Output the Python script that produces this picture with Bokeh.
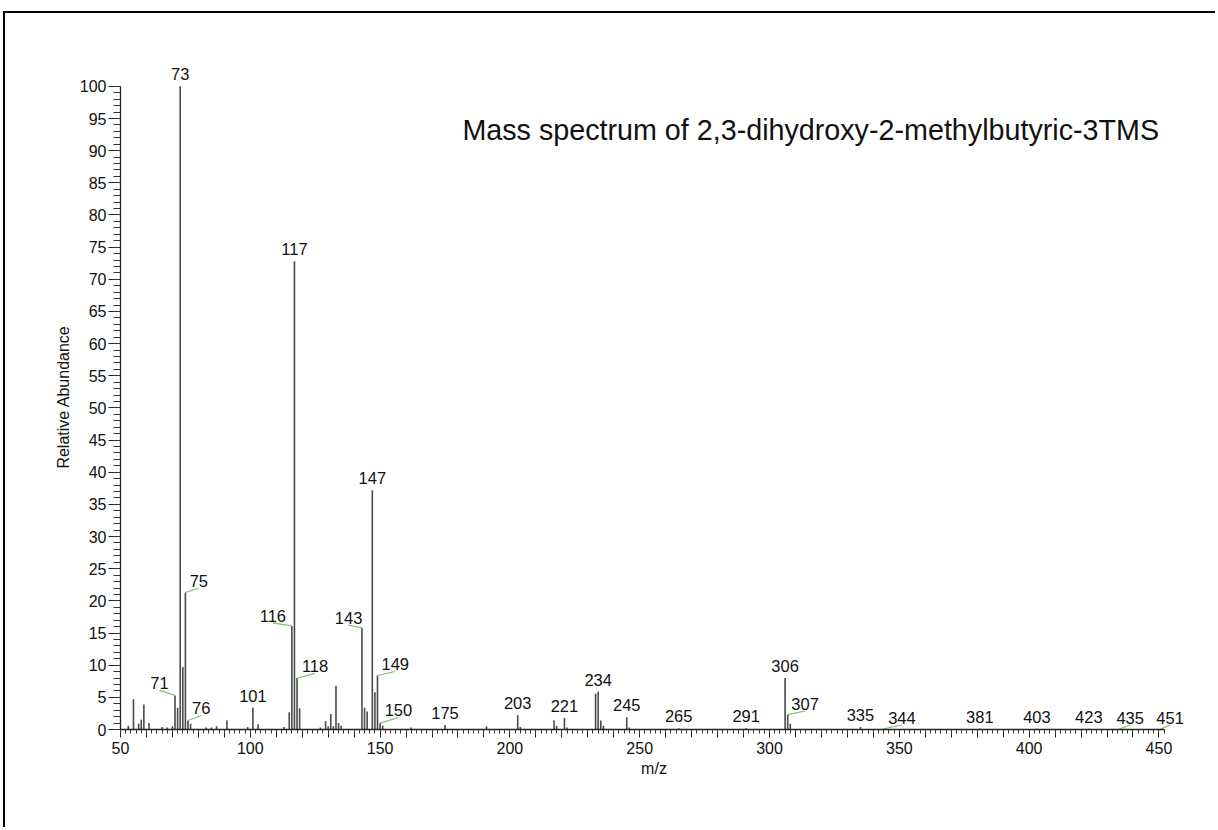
from bokeh.plotting import figure
from bokeh.models import FixedTicker, Label
from bokeh.core.properties import value
from bokeh.embed import file_html
from bokeh.resources import INLINE

# ---------------- data ----------------
mz = [53, 55, 57, 58, 59, 61, 66, 68, 70, 71, 72, 73, 74, 75, 76, 77, 83, 85, 87, 91,
      99, 101, 103, 113, 115, 116, 117, 118, 119, 127, 129, 130, 131, 132, 133, 134, 135,
      143, 144, 145, 147, 148, 149, 150, 151, 162, 175, 191, 203, 204, 217, 218, 221, 222,
      233, 234, 235, 236, 245, 246, 265, 291, 306, 307, 308, 335, 344, 381, 403, 423, 435, 451]
abundance = [0.6, 4.7, 0.9, 1.5, 3.9, 1.0, 0.4, 0.3, 0.5, 5.3, 3.4, 100.0, 9.7, 21.3, 1.4, 0.9, 0.3, 0.3, 0.5, 1.4,
             0.4, 3.4, 0.8, 0.4, 2.7, 16.1, 72.8, 8.0, 3.3, 0.3, 1.3, 0.5, 2.4, 0.5, 6.8, 1.0, 0.6,
             15.8, 3.4, 2.8, 37.2, 5.8, 8.4, 1.0, 0.6, 0.3, 0.7, 0.5, 2.2, 0.4, 1.4, 0.6, 1.8, 0.3,
             5.6, 5.9, 1.4, 0.6, 1.9, 0.3, 0.2, 0.2, 8.0, 2.3, 0.9, 0.4, 0.12, 0.15, 0.12, 0.12, 0.12, 0.12]
label_mz = [71, 73, 75, 76, 101, 116, 117, 118, 143, 147, 149, 150, 175, 203, 221, 234, 245,
            265, 291, 306, 307, 335, 344, 381, 403, 423, 435, 451]
x_tick_labels = [50, 100, 150, 200, 250, 300, 350, 400, 450]
y_tick_labels = [0, 5, 10, 15, 20, 25, 30, 35, 40, 45, 50, 55, 60, 65, 70, 75, 80, 85, 90, 95, 100]
title_text = "Mass spectrum of 2,3-dihydroxy-2-methylbutyric-3TMS"
x_title = "m/z"
y_title = "Relative Abundance"

# ---------------- layout / style ----------------
W, H = 1212, 816
BL, BR, BT, BB = 115, 30, 51, 100
X0, X1 = 50, 461
Y0, Y1 = 0, 103.4
ppx = (W - BL - BR) / (X1 - X0)
ppy = (H - BT - BB) / (Y1 - Y0)

FONT = "Liberation Sans"
PEAK_COLOR = "#4a4a4a"
LEADER_COLOR = "#7cc36e"
TEXT_COLOR = "#111111"

# label centre offsets (px) from the peak top; non-zero dx draws a leader line
LABEL_OFFSETS = {71: (-15.5, 12), 75: (13.4, 11.3), 76: (13.2, 12), 116: (-19, 10),
                 118: (18, 11.6), 143: (-13.4, 9.7), 149: (17.7, 11), 150: (18.3, 12.6),
                 307: (17.4, 10.7), 344: (18.2, 10.7), 435: (10.2, 10.7), 451: (8.6, 10.7)}
DEFAULT_OFFSET = (0, 12)

p = figure(width=W, height=H, x_range=(X0, X1), y_range=(Y0, Y1),
           output_backend="svg", toolbar_location=None,
           min_border_left=BL, min_border_right=BR, min_border_top=BT, min_border_bottom=BB)
p.styles = {"border-top": "2px solid #000", "border-left": "2px solid #000",
            "margin-left": "3px", "margin-top": "11px"}
p.xgrid.visible = False
p.ygrid.visible = False
p.outline_line_color = None
p.background_fill_color = "white"
p.border_fill_color = "white"

# peaks
p.segment(x0=mz, y0=[0] * len(mz), x1=mz, y1=abundance, line_color=PEAK_COLOR, line_width=1.6)

# peak labels and leaders
lookup = dict(zip(mz, abundance))
lx, ly, lt = [], [], []
sx0, sy0, sx1, sy1 = [], [], [], []
for m in label_mz:
    h = lookup[m]
    dx, dy = LABEL_OFFSETS.get(m, DEFAULT_OFFSET)
    x = m + dx / ppx
    y = h + dy / ppy
    lx.append(x); ly.append(y); lt.append(str(m))
    if dx != 0:
        sx0.append(m); sy0.append(h)
        sx1.append(x); sy1.append(y - 7 / ppy)
p.segment(x0=sx0, y0=sy0, x1=sx1, y1=sy1, line_color=LEADER_COLOR, line_width=1.2)
p.text(x=lx, y=ly, text=lt, text_font=value(FONT), text_font_size="16.5px",
       text_align="center", text_baseline="middle", text_color=TEXT_COLOR)

# axes
xmaj = list(range(50, 451, 10))
p.xaxis.ticker = FixedTicker(ticks=xmaj, minor_ticks=list(range(50, 453, 2)))
p.xaxis.major_label_overrides = {t: "" for t in xmaj if t not in x_tick_labels}
p.xaxis.bounds = (50, 452)
p.yaxis.ticker = FixedTicker(ticks=y_tick_labels, minor_ticks=list(range(0, 101)))
p.yaxis.bounds = (0, 100)
for ax in (p.xaxis, p.yaxis):
    ax.axis_line_color = "#222222"
    ax.axis_line_width = 1.3
    ax.major_tick_line_color = "#222222"
    ax.minor_tick_line_color = "#333333"
    ax.major_tick_in = 0
    ax.minor_tick_in = 0
    ax.major_label_text_font = FONT
    ax.major_label_text_font_size = "16px"
    ax.major_label_text_color = TEXT_COLOR
    ax.axis_label_text_font = FONT
    ax.axis_label_text_font_size = "16px"
    ax.axis_label_text_font_style = "normal"
    ax.axis_label_text_color = TEXT_COLOR
p.yaxis.major_tick_out = 12
p.yaxis.minor_tick_out = 7
p.yaxis.major_label_standoff = 2
p.yaxis.axis_label = y_title
p.yaxis.axis_label_standoff = 5
p.xaxis.major_tick_out = 8
p.xaxis.minor_tick_out = 4
p.xaxis.major_label_standoff = 4
p.xaxis.axis_label = x_title
p.xaxis.axis_label_standoff = 3

# title
p.add_layout(Label(x=181.7, y=93.2, text=title_text, text_font=FONT, text_font_size="28.7px",
                   text_align="left", text_baseline="middle", text_color=TEXT_COLOR))

open("out.html", "w").write(file_html(p, INLINE))
